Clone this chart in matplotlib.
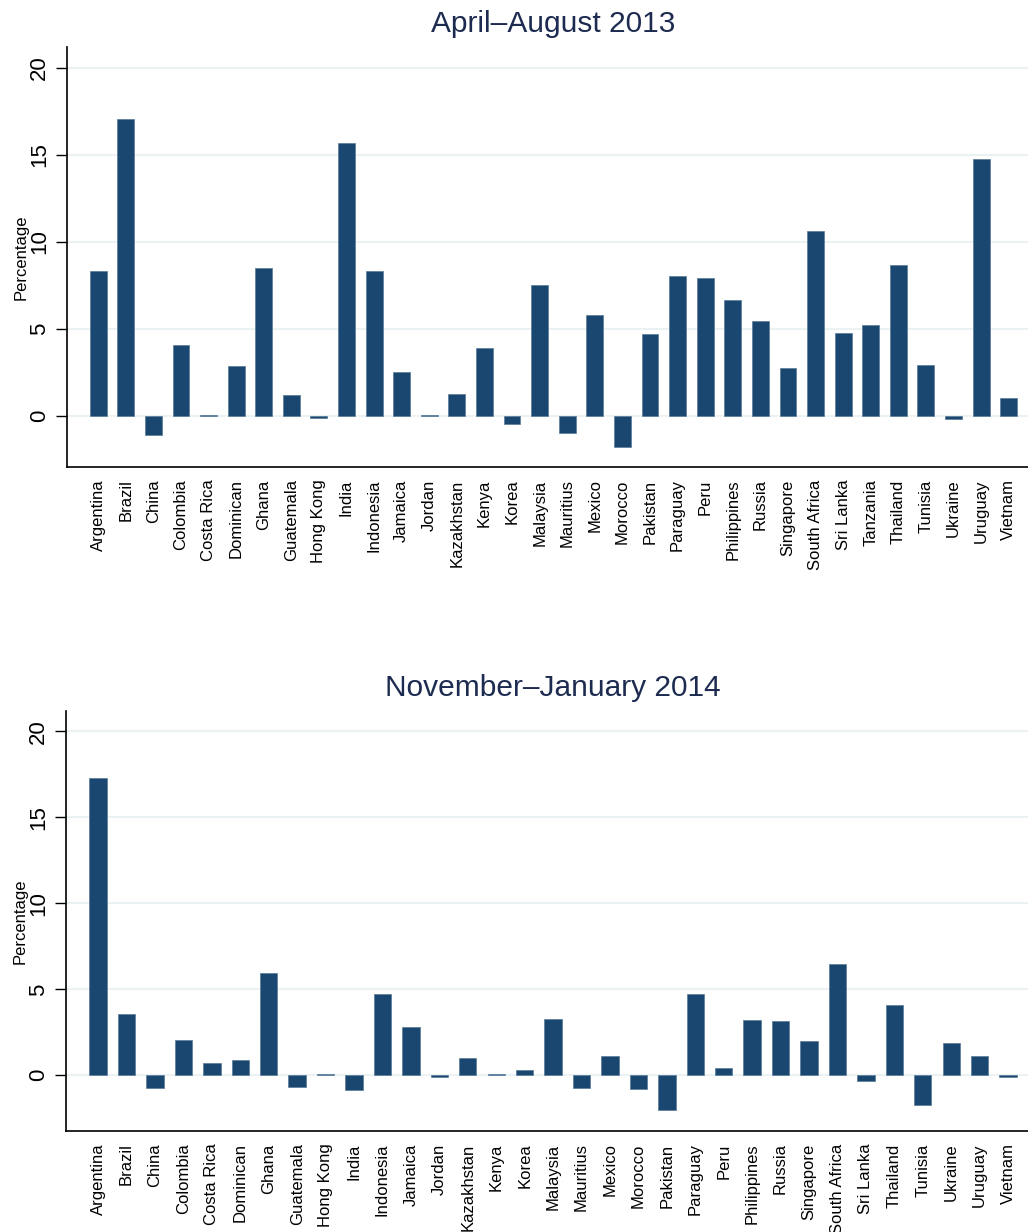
import numpy as np
import matplotlib.pyplot as plt

plt.rcParams['font.family'] = ['Liberation Sans', 'DejaVu Sans']

countries = ["Argentina", "Brazil", "China", "Colombia", "Costa Rica", "Dominican",
             "Ghana", "Guatemala", "Hong Kong", "India", "Indonesia", "Jamaica",
             "Jordan", "Kazakhstan", "Kenya", "Korea", "Malaysia", "Mauritius",
             "Mexico", "Morocco", "Pakistan", "Paraguay", "Peru", "Philippines",
             "Russia", "Singapore", "South Africa", "Sri Lanka", "Tanzania",
             "Thailand", "Tunisia", "Ukraine", "Uruguay", "Vietnam"]

# depreciation, Apr-Aug 2013
apr_aug_2013 = [8.34, 17.03, -1.09, 4.08, 0.04, 2.88, 8.49, 1.21, -0.13, 15.70,
                8.34, 2.53, 0.04, 1.27, 3.91, -0.48, 7.52, -1.00, 5.79, -1.78,
                4.70, 8.05, 7.90, 6.67, 5.45, 2.78, 10.60, 4.77, 5.23, 8.67,
                2.90, -0.19, 14.73, 1.02]

# depreciation, Nov 2013-Jan 2014 (no Tanzania)
nov_jan_countries = [c for c in countries if c != "Tanzania"]
nov_jan_2014 = [17.30, 3.57, -0.72, 2.06, 0.70, 0.87, 5.94, -0.70, 0.08, -0.85,
                4.74, 2.83, -0.10, 1.01, 0.08, 0.30, 3.28, -0.76, 1.13, -0.82,
                -2.04, 4.74, 0.43, 3.24, 3.17, 1.98, 6.45, -0.35, 4.08, -1.71,
                1.88, 1.11, -0.12]

bar_color = "#1a476f"
grid_color = "#eaf2f3"
title_color = "#1c2b4f"

fig = plt.figure(figsize=(10.28, 12.32), dpi=100)
ax1 = fig.add_axes([0.0649, 0.621, 0.9351, 0.341])
ax2 = fig.add_axes([0.0639, 0.082, 0.9361, 0.341])


def draw_panel(ax, names, values, title, ylim):
    x = np.arange(len(names))
    ax.bar(x, values, width=0.61, color=bar_color, edgecolor="#5a7a98",
           linewidth=0.5, zorder=3)
    ax.set_xlim(-1.14, len(names) - 0.3)
    ax.set_ylim(*ylim)
    ax.set_yticks([0, 5, 10, 15, 20])
    ax.set_yticklabels(["0", "5", "10", "15", "20"], rotation=90, va="center",
                       fontsize=16)
    ax.set_xticks(x)
    ax.set_xticklabels(names, rotation=90, fontsize=12)
    ax.tick_params(axis="x", length=0, pad=9)
    ax.tick_params(axis="y", length=8, width=1, pad=4)
    ax.grid(axis="y", color=grid_color, linewidth=1.5, zorder=0)
    ax.spines["top"].set_visible(False)
    ax.spines["right"].set_visible(False)
    ax.spines["left"].set_linewidth(1.2)
    ax.spines["bottom"].set_linewidth(1.2)
    ax.set_ylabel("Percentage", fontsize=12)
    ax.yaxis.set_label_coords(-0.040, 0.5)
    ax.set_title(title, fontsize=21.5, color=title_color, pad=11, x=0.506)


draw_panel(ax1, countries, apr_aug_2013, "April\u2013August 2013", (-2.93, 21.2))
draw_panel(ax2, nov_jan_countries, nov_jan_2014, "November\u2013January 2014",
           (-3.24, 21.2))

fig.savefig("out.png", dpi=100)
